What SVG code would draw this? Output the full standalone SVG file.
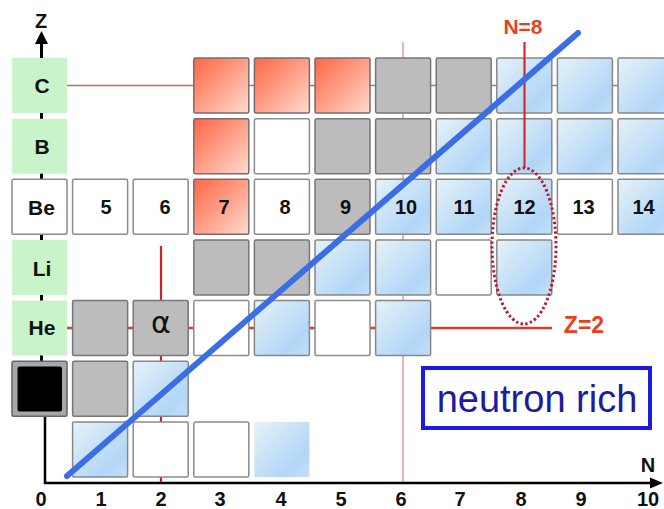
<svg xmlns="http://www.w3.org/2000/svg" width="664" height="509" viewBox="0 0 664 509">
<defs>
<linearGradient id="gRed" x1="0" y1="0" x2="1" y2="1">
<stop offset="0" stop-color="#ff6645"/><stop offset="0.55" stop-color="#ffa58e"/><stop offset="1" stop-color="#ffdcd0"/>
</linearGradient>
<linearGradient id="gBlue" x1="0" y1="0" x2="1" y2="1">
<stop offset="0" stop-color="#e6f2f8"/><stop offset="0.75" stop-color="#b2d6f7"/><stop offset="1" stop-color="#c4e0f8"/>
</linearGradient>
</defs>
<style>
.cell{stroke-width:1.5;}
.green{fill:#c9f3c9;stroke:none;}
.grey{fill:#bcbcbc;stroke:#777;}
.white{fill:#fff;stroke:#8c8c8c;}
.red{fill:url(#gRed);stroke:#7a6a6a;}
.blue{fill:url(#gBlue);stroke:#888;}
.bluenb{fill:url(#gBlue);stroke:none;}
.lab{font-family:"Liberation Sans",Arial,sans-serif;font-weight:bold;font-size:21px;fill:#111;text-anchor:middle;}
.num{font-family:"Liberation Sans",Arial,sans-serif;font-weight:bold;font-size:20px;fill:#111;text-anchor:middle;}
.ax{font-family:"Liberation Sans",Arial,sans-serif;font-weight:bold;font-size:20px;fill:#111;text-anchor:middle;}
.rt{font-family:"Liberation Sans",Arial,sans-serif;font-weight:bold;fill:#e8401c;text-anchor:middle;}
</style>
<rect width="664" height="509" fill="#fff"/>

<g id="connectors-back" fill="none">
<line x1="67" y1="85.5" x2="664" y2="85.5" stroke="#c86a6a" stroke-width="1.3"/>
<line x1="403" y1="42" x2="403" y2="483" stroke="#d88c8c" stroke-width="1.3"/>
<line x1="67" y1="328" x2="431" y2="328" stroke="#e03a2a" stroke-width="2.5"/>
<line x1="161" y1="246" x2="161" y2="483" stroke="#d42020" stroke-width="2.2"/>
<line x1="41.5" y1="42" x2="41.5" y2="362" stroke="#000" stroke-width="3"/>
</g>

<g id="row-Z6">
<g id="C"><rect class="cell green" x="12" y="58" width="55" height="55" rx="1"/><text class="lab" x="42" y="93">C</text></g>
<g id="N3Z6"><rect class="cell red" x="193.8" y="58" width="55" height="55" rx="1.5"/></g>
<g id="N4Z6"><rect class="cell red" x="254.4" y="58" width="55" height="55" rx="1.5"/></g>
<g id="N5Z6"><rect class="cell red" x="315" y="58" width="55" height="55" rx="1.5"/></g>
<g id="N6Z6"><rect class="cell grey" x="375.6" y="58" width="55" height="55" rx="1.5"/></g>
<g id="N7Z6"><rect class="cell grey" x="436.2" y="58" width="55" height="55" rx="1.5"/></g>
<g id="N8Z6"><rect class="cell blue" x="496.8" y="58" width="55" height="55" rx="1.5"/></g>
<g id="N9Z6"><rect class="cell blue" x="557.4" y="58" width="55" height="55" rx="1.5"/></g>
<g id="N10Z6"><rect class="cell blue" x="618" y="58" width="55" height="55" rx="1.5"/></g>
</g>

<g id="row-Z5">
<g id="B"><rect class="cell green" x="12" y="118.7" width="55" height="55" rx="1"/><text class="lab" x="42" y="154">B</text></g>
<g id="N3Z5"><rect class="cell red" x="193.8" y="118.7" width="55" height="55" rx="1.5"/></g>
<g id="N4Z5"><rect class="cell white" x="254.4" y="118.7" width="55" height="55" rx="1.5"/></g>
<g id="N5Z5"><rect class="cell grey" x="315" y="118.7" width="55" height="55" rx="1.5"/></g>
<g id="N6Z5"><rect class="cell grey" x="375.6" y="118.7" width="55" height="55" rx="1.5"/></g>
<g id="N7Z5"><rect class="cell blue" x="436.2" y="118.7" width="55" height="55" rx="1.5"/></g>
<g id="N8Z5"><rect class="cell blue" x="496.8" y="118.7" width="55" height="55" rx="1.5"/></g>
<g id="N9Z5"><rect class="cell blue" x="557.4" y="118.7" width="55" height="55" rx="1.5"/></g>
<g id="N10Z5"><rect class="cell blue" x="618" y="118.7" width="55" height="55" rx="1.5"/></g>
</g>

<g id="row-Z4">
<g id="Be"><rect class="cell white" x="12" y="179.3" width="55" height="55" rx="1.5"/><text class="lab" x="41.5" y="215">Be</text></g>
<g id="Be5"><rect class="cell white" x="72.6" y="179.3" width="55" height="55" rx="1.5"/><text class="num" x="106" y="214">5</text></g>
<g id="Be6"><rect class="cell white" x="133.2" y="179.3" width="55" height="55" rx="1.5"/><text class="num" x="165" y="214">6</text></g>
<g id="Be7"><rect class="cell red" x="193.8" y="179.3" width="55" height="55" rx="1.5"/><text class="num" x="224" y="214">7</text></g>
<g id="Be8"><rect class="cell white" x="254.4" y="179.3" width="55" height="55" rx="1.5"/><text class="num" x="285" y="214">8</text></g>
<g id="Be9"><rect class="cell grey" x="315" y="179.3" width="55" height="55" rx="1.5"/><text class="num" x="345.5" y="214">9</text></g>
<g id="Be10"><rect class="cell blue" x="375.6" y="179.3" width="55" height="55" rx="1.5"/><text class="num" x="406" y="214">10</text></g>
<g id="Be11"><rect class="cell blue" x="436.2" y="179.3" width="55" height="55" rx="1.5"/><text class="num" x="464" y="214">11</text></g>
<g id="Be12"><rect class="cell blue" x="496.8" y="179.3" width="55" height="55" rx="1.5"/><text class="num" x="524.5" y="214">12</text></g>
<g id="Be13"><rect class="cell white" x="557.4" y="179.3" width="55" height="55" rx="1.5"/><text class="num" x="583.5" y="214">13</text></g>
<g id="Be14"><rect class="cell blue" x="618" y="179.3" width="55" height="55" rx="1.5"/><text class="num" x="643.5" y="214">14</text></g>
</g>

<g id="row-Z3">
<g id="Li"><rect class="cell green" x="12" y="240" width="55" height="55" rx="1"/><text class="lab" x="42" y="276">Li</text></g>
<g id="N3Z3"><rect class="cell grey" x="193.8" y="240" width="55" height="55" rx="1.5"/></g>
<g id="N4Z3"><rect class="cell grey" x="254.4" y="240" width="55" height="55" rx="1.5"/></g>
<g id="N5Z3"><rect class="cell blue" x="315" y="240" width="55" height="55" rx="1.5"/></g>
<g id="N6Z3"><rect class="cell blue" x="375.6" y="240" width="55" height="55" rx="1.5"/></g>
<g id="N7Z3"><rect class="cell white" x="436.2" y="240" width="55" height="55" rx="1.5"/></g>
<g id="N8Z3"><rect class="cell blue" x="496.8" y="240" width="55" height="55" rx="1.5"/></g>
</g>

<g id="row-Z2">
<g id="He"><rect class="cell green" x="12" y="300.6" width="55" height="55" rx="1"/><text class="lab" x="42" y="335">He</text></g>
<g id="N1Z2"><rect class="cell grey" x="72.6" y="300.6" width="55" height="55" rx="1.5"/></g>
<g id="alpha"><rect class="cell grey" x="133.2" y="300.6" width="55" height="55" rx="1.5"/><text x="161" y="333" font-family="DejaVu Sans,sans-serif" font-size="30" fill="#111" text-anchor="middle">α</text></g>
<g id="N3Z2"><rect class="cell white" x="193.8" y="300.6" width="55" height="55" rx="1.5"/></g>
<g id="N4Z2"><rect class="cell blue" x="254.4" y="300.6" width="55" height="55" rx="1.5"/></g>
<g id="N5Z2"><rect class="cell white" x="315" y="300.6" width="55" height="55" rx="1.5"/></g>
<g id="N6Z2"><rect class="cell blue" x="375.6" y="300.6" width="55" height="55" rx="1.5"/></g>
</g>

<g id="row-Z1">
<g id="proton"><rect x="12" y="361.3" width="55" height="55" rx="1.5" fill="#a8a8a8" stroke="#666" stroke-width="1.5"/><rect x="17.5" y="366.5" width="44.5" height="45" rx="2" fill="#000"/></g>
<g id="N1Z1"><rect class="cell grey" x="72.6" y="361.3" width="55" height="55" rx="1.5"/></g>
<g id="N2Z1"><rect class="cell blue" x="133.2" y="361.3" width="55" height="55" rx="1.5"/></g>
</g>

<g id="row-Z0">
<g id="neutron"><rect class="cell blue" x="72.6" y="422" width="55" height="55" rx="1.5"/></g>
<g id="N2Z0"><rect class="cell white" x="133.2" y="422" width="55" height="55" rx="1.5"/></g>
<g id="N3Z0"><rect class="cell white" x="193.8" y="422" width="55" height="55" rx="1.5"/></g>
<g id="N4Z0"><rect class="cell bluenb" x="254.4" y="422" width="55" height="55"/></g>
</g>

<g id="connectors" fill="none">
<line x1="431" y1="328" x2="552" y2="328" stroke="#e03a2a" stroke-width="2.5"/>
<line x1="524.5" y1="42" x2="524.5" y2="168" stroke="#d42a2a" stroke-width="2.2"/>
<line x1="41.5" y1="58" x2="41.5" y2="42" stroke="#000" stroke-width="3"/>
<path d="M41.5,31 L48,44 L35,44 z" fill="#000"/>
<polyline points="45,417 45,483 652,483" stroke="#000" stroke-width="2.5"/>
<path d="M650,477.5 L663,483 L650,488.5 z" fill="#000"/>
<line x1="67" y1="476" x2="578" y2="33" stroke="#3b6ee6" stroke-width="6" stroke-linecap="round"/>
<ellipse cx="524" cy="246" rx="32" ry="78" stroke="#b81c34" stroke-width="3" stroke-dasharray="2.4,2.4"/>
</g>

<g id="labels">
<text class="ax" x="41" y="28">Z</text>
<text class="rt" x="523" y="34" font-size="21">N=8</text>
<text class="rt" x="584" y="333" font-size="23">Z=2</text>
<text class="ax" x="648" y="472">N</text>
<text class="ax" x="41" y="506">0</text>
<text class="ax" x="101" y="506">1</text>
<text class="ax" x="161" y="506">2</text>
<text class="ax" x="220" y="506">3</text>
<text class="ax" x="281" y="506">4</text>
<text class="ax" x="341" y="506">5</text>
<text class="ax" x="401" y="506">6</text>
<text class="ax" x="460" y="506">7</text>
<text class="ax" x="521" y="506">8</text>
<text class="ax" x="581" y="506">9</text>
<text class="ax" x="648" y="506">10</text>
</g>

<g id="neutron-rich">
<rect x="423" y="368" width="227" height="60" fill="#fff" stroke="#1a1ae0" stroke-width="4"/>
<text x="537" y="412" font-family="Liberation Sans,Arial,sans-serif" font-size="38" fill="#1c1ca0" text-anchor="middle">neutron rich</text>
</g>
</svg>
